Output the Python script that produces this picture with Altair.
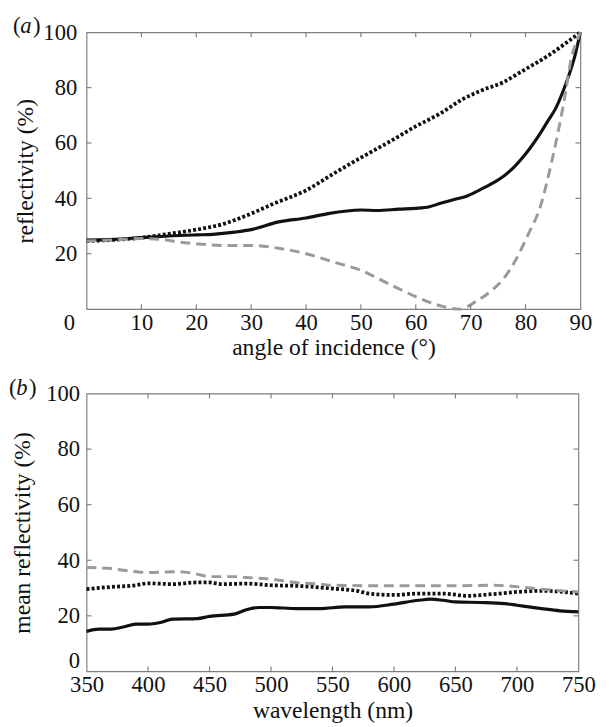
import altair as alt
import pandas as pd

# ---------- panel (a): reflectivity vs angle of incidence ----------
a_solid_x = [0, 5, 10, 15, 20, 23, 27, 30, 35, 40, 44, 50, 53, 57, 60, 62.5, 64.5, 67, 69, 71.5, 74, 76, 78, 80, 81.5, 83, 84, 85.5, 87, 88, 89, 90]
a_solid_y = [24.9, 25.2, 25.8, 26.4, 26.8, 27.0, 27.8, 28.7, 31.5, 32.9, 34.5, 35.8, 35.6, 36.1, 36.4, 37.0, 38.2, 39.6, 40.6, 42.9, 45.5, 48.0, 51.5, 56.0, 60.0, 64.5, 67.7, 72.5, 79.5, 85.0, 91.5, 100]
a_dot_x = [0, 5, 10, 15, 20, 25, 30, 34, 40, 45, 50, 55, 60, 64.5, 68.7, 72, 76, 79, 84, 90]
a_dot_y = [24.6, 25.0, 25.8, 27.2, 28.7, 30.8, 34.5, 38.0, 42.9, 48.9, 54.7, 60.2, 66.0, 70.7, 76.0, 79.0, 82.0, 85.5, 91.4, 100]
a_dash_x = [0, 5, 10, 14, 17, 20, 25, 30, 35, 40, 45, 50, 55, 60, 64.5, 68, 71, 74, 76, 78, 80.5, 82.7, 84.8, 87, 88.4, 89.6, 90]
a_dash_y = [24.6, 25.0, 25.5, 25.1, 24.2, 23.6, 23.0, 23.0, 22.0, 20.0, 17.0, 14.0, 9.2, 4.5, 1.2, 0.0, 2.8, 7.0, 11.0, 17.0, 27.0, 37.0, 53.5, 74.8, 91.0, 98.0, 100]

# ---------- panel (b): mean reflectivity vs wavelength ----------
b_solid_x = [350, 360, 370, 380, 390, 400, 410, 420, 440, 450, 470, 480, 490, 500, 510, 520, 540, 560, 580, 600, 620, 630, 640, 650, 670, 690, 700, 720, 735, 750]
b_solid_y = [14.4, 15.2, 15.2, 16.0, 17.0, 17.0, 17.6, 18.8, 19.0, 19.8, 20.6, 22.2, 23.0, 23.0, 22.8, 22.6, 22.6, 23.2, 23.2, 24.2, 25.6, 26.0, 25.6, 25.0, 24.8, 24.4, 23.8, 22.6, 21.8, 21.4]
b_dot_x = [350, 370, 390, 400, 420, 440, 450, 460, 480, 500, 520, 540, 550, 570, 580, 600, 620, 640, 660, 680, 700, 720, 750]
b_dot_y = [29.6, 30.4, 31.0, 31.7, 31.4, 32.0, 32.0, 31.4, 31.6, 31.0, 30.8, 30.2, 29.8, 29.0, 28.0, 27.5, 28.0, 28.0, 27.2, 27.8, 28.6, 29.0, 28.0]
b_dash_x = [350, 370, 380, 400, 425, 440, 450, 470, 480, 500, 510, 520, 540, 550, 600, 650, 680, 700, 720, 750]
b_dash_y = [37.4, 37.0, 36.4, 35.6, 35.9, 35.0, 34.1, 34.1, 33.8, 33.2, 32.6, 32.0, 31.4, 31.0, 30.8, 30.8, 31.0, 30.5, 29.6, 28.6]

a_xlabels = [0, 10, 20, 30, 40, 50, 60, 70, 80, 90]
a_ylabels = [20, 40, 60, 80, 100]
a_xin = [10, 20, 30, 40, 50, 60, 70, 80]
a_yin = [20, 40, 60, 80]
b_xlabels = [350, 400, 450, 500, 550, 600, 650, 700, 750]
b_ylabels = [0, 20, 40, 60, 80, 100]
b_xin = [400, 450, 500, 550, 600, 650, 700]
b_yin = [20, 40, 60, 80]

FONT = "Liberation Serif"
LFS = 23
TFS = 24
INK = "#111111"
FRAME = "#808080"
TXT = dict(labelFont=FONT, labelFontSize=LFS, labelColor=INK,
           titleFont=FONT, titleFontSize=TFS, titleFontWeight="normal", titleColor=INK)
TL = 5  # inward tick length (px)


def df(xs, ys):
    return pd.DataFrame({"x": xs, "y": ys})


def panel(series, xdom, ydom, xlab_vals, ylab_vals, xin, yin, xtitle, ytitle,
          tag, tagx, w, h, xlp, xtp, ylp, ytp, x_label_expr_offset, y_label_expr_offset):
    xs = alt.Scale(domain=xdom, nice=False, zero=False)
    ys = alt.Scale(domain=ydom, nice=False, zero=False)

    ax_x = alt.Axis(orient="bottom", values=xlab_vals, domain=False, ticks=False, tickSize=0,
                    labelPadding=xlp, title=xtitle, titlePadding=xtp, grid=False,
                    labelOffset=alt.expr(x_label_expr_offset), labelFlush=False,
                    labelOverlap=False, **TXT)
    ax_y = alt.Axis(orient="left", values=ylab_vals, domain=False, ticks=False, tickSize=0,
                    labelPadding=ylp, title=ytitle, titlePadding=ytp, grid=False,
                    labelOffset=alt.expr(y_label_expr_offset), labelFlush=False,
                    labelOverlap=False, **TXT)

    layers = []
    for data, style in series:
        layers.append(
            alt.Chart(data).mark_line(interpolate="monotone", clip=False, **style).encode(
                x=alt.X("x:Q", scale=xs, axis=ax_x, title=xtitle),
                y=alt.Y("y:Q", scale=ys, axis=ax_y, title=ytitle),
            )
        )

    # inward ticks on all four sides (positions from the shared scales)
    xt = pd.DataFrame({"x": xin})
    yt = pd.DataFrame({"y": yin})
    rule = dict(color=FRAME, strokeWidth=1.2)
    layers.append(alt.Chart(xt).mark_rule(**rule).encode(
        x=alt.X("x:Q", scale=xs, axis=ax_x, title=xtitle), y=alt.value(0), y2=alt.value(TL)))
    layers.append(alt.Chart(xt).mark_rule(**rule).encode(
        x=alt.X("x:Q", scale=xs, axis=ax_x, title=xtitle), y=alt.value(h - TL), y2=alt.value(h)))
    layers.append(alt.Chart(yt).mark_rule(**rule).encode(
        y=alt.Y("y:Q", scale=ys, axis=ax_y, title=ytitle), x=alt.value(0), x2=alt.value(TL)))
    layers.append(alt.Chart(yt).mark_rule(**rule).encode(
        y=alt.Y("y:Q", scale=ys, axis=ax_y, title=ytitle), x=alt.value(w - TL), x2=alt.value(w)))

    # panel tag "(a)" / "(b)" with italic letter
    layers.append(alt.Chart(pd.DataFrame({"t": ["("]})).mark_text(
        align="left", baseline="middle", font=FONT, fontSize=23, color=INK)
        .encode(x=alt.value(tagx), y=alt.value(-6), text="t:N"))
    layers.append(alt.Chart(pd.DataFrame({"t": [tag]})).mark_text(
        align="left", baseline="middle", font=FONT, fontSize=23, fontStyle="italic", color=INK)
        .encode(x=alt.value(tagx + 7.5), y=alt.value(-6), text="t:N"))
    layers.append(alt.Chart(pd.DataFrame({"t": [")"]})).mark_text(
        align="left", baseline="middle", font=FONT, fontSize=23, color=INK)
        .encode(x=alt.value(tagx + 20.5), y=alt.value(-6), text="t:N"))

    return alt.layer(*layers).properties(width=w, height=h)


solid = dict(color=INK, strokeWidth=3.2)
dotted = dict(color=INK, strokeWidth=3.8, strokeDash=[3, 2.2])
dashed = dict(color="#9a9a9a", strokeWidth=3, strokeDash=[10, 6])

pa = panel(
    [(df(a_solid_x, a_solid_y), solid), (df(a_dot_x, a_dot_y), dotted), (df(a_dash_x, a_dash_y), dashed)],
    [0, 90], [0, 100], a_xlabels, a_ylabels, a_xin, a_yin,
    "angle of incidence (°)", "reflectivity (%)", "a", -75, 503, 282,
    3, 1, 10, 6, "datum.value == 0 ? -18 : 0", "0",
)
pb = panel(
    [(df(b_solid_x, b_solid_y), solid), (df(b_dot_x, b_dot_y), dotted), (df(b_dash_x, b_dash_y), dashed)],
    [350, 750], [0, 100], b_xlabels, b_ylabels, b_xin, b_yin,
    "wavelength (nm)", "mean reflectivity (%)", "b", -79, 501, 283,
    2, 3, 7, 12, "0", "datum.value == 0 ? -11 : 0",
)

chart = alt.vconcat(pa, pb, spacing=16).configure(
    padding={"left": 0, "top": 0, "right": 5, "bottom": 0}
).configure_view(stroke=FRAME, strokeWidth=1.2).configure_axis(**TXT)

chart.save("out.html", embed_options={"renderer": "svg", "actions": False})
